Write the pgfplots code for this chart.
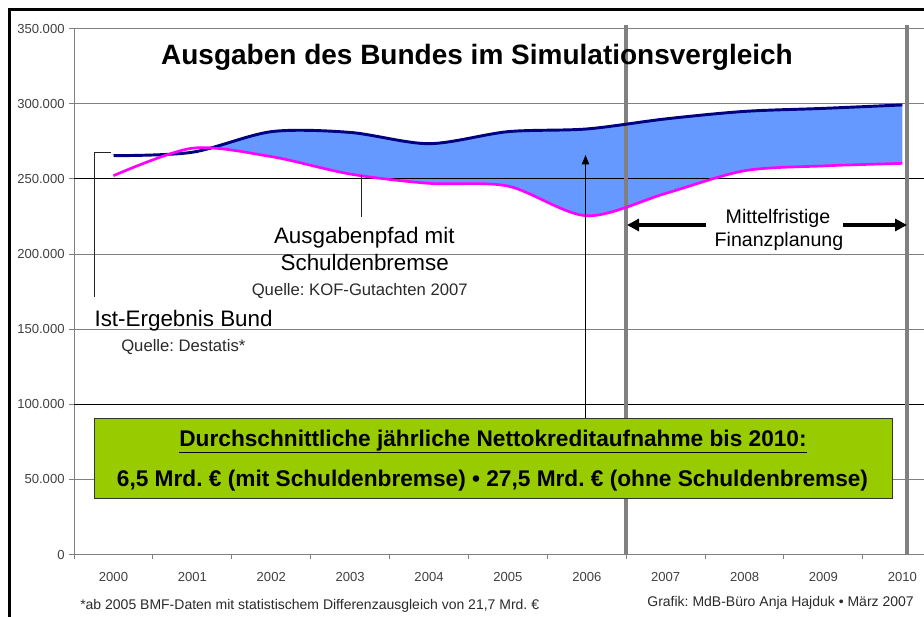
\documentclass[border=0pt]{standalone}
\usepackage{fontspec}
\setmainfont{Liberation Sans}
\usepackage{pgfplots}
\pgfplotsset{compat=1.18}
\usepgfplotslibrary{fillbetween}
\usetikzlibrary{arrows.meta}
\definecolor{navy}{HTML}{000080}
\definecolor{mag}{HTML}{FF00FF}
\definecolor{fillblue}{HTML}{6699FF}
\definecolor{boxgreen}{HTML}{99CC00}
\definecolor{gridgray}{HTML}{808080}
\definecolor{labgray}{HTML}{404040}
\definecolor{txtgray}{HTML}{2A2A2A}
\newcommand\fs[1]{\fontsize{#1}{#1}\selectfont}
\frenchspacing
\begin{document}
\begin{tikzpicture}
\begin{axis}[
  set layers,
  at={(55.545pt,-415.875pt)}, anchor=south west,
  scale only axis, width=637.45pt, height=394.3pt,
  xmin=-0.5, xmax=10.275, ymin=0, ymax=350000,
  scaled y ticks=false,
  clip=false,
  axis x line=bottom, axis y line=left,
  axis line style={-, gridgray, line width=0.75pt},
  tick align=outside,
  tick style={gridgray, line width=0.75pt},
  major tick length=3.6pt,
  xtick={-0.5,0.5,...,9.5}, xticklabels={},
  extra x ticks={0,1,2,3,4,5,6,7,8,9,10},
  extra x tick labels={2000,2001,2002,2003,2004,2005,2006,2007,2008,2009,2010},
  extra x tick style={major tick length=0pt, grid=none,
    xticklabel style={anchor=base, yshift=-19.9pt, inner sep=0pt}},
  ytick={0,50000,100000,150000,200000,250000,300000,350000},
  yticklabels={0,50.000,100.000,150.000,200.000,250.000,300.000,350.000},
  ymajorgrids, grid style={gridgray, line width=0.75pt},
  ticklabel style={font=\fs{9.8}, text=labgray},
]
\addplot[draw=none, name path=ist, smooth] coordinates {(0,265500) (1,267800) (2,281500) (3,281000) (4,273500) (5,281500) (6,283300) (7,290000) (8,295000) (9,297000) (10,299300)};
\addplot[draw=none, name path=kof, smooth] coordinates {(0,252200) (1,270500) (2,264900) (3,253300) (4,247100) (5,245300) (6,225500) (7,240400) (8,255500) (9,258700) (10,260400)};
\addplot[fillblue, draw=none] fill between[of=ist and kof, soft clip={domain=1.3:10}];
\draw[black, line width=0.75pt] (axis cs:-0.5,250000) -- (axis cs:10.275,250000);
\draw[black, line width=0.75pt] (axis cs:-0.5,100000) -- (axis cs:10.275,100000);
\draw[gridgray, line width=3pt] (axis cs:6.5,0) -- (axis cs:6.5,352200);
\draw[gridgray, line width=3pt] (axis cs:10.06,0) -- (axis cs:10.06,352200);
\addplot[navy, line width=2.2pt, smooth] coordinates {(0,265500) (1,267800) (2,281500) (3,281000) (4,273500) (5,281500) (6,283300) (7,290000) (8,295000) (9,297000) (10,299300)};
\addplot[mag, line width=2pt, smooth] coordinates {(0,252200) (1,270500) (2,264900) (3,253300) (4,247100) (5,245300) (6,225500) (7,240400) (8,255500) (9,258700) (10,260400)};
\end{axis}
\begin{scope}[x=0.75pt, y=-0.75pt]
  % frame
  \draw[black, line width=2.25pt] (8,9.5) -- (924,9.5);
  \draw[black, line width=2.25pt] (9.5,8) -- (9.5,617);
  % title
  \node[anchor=base, font=\bfseries\fs{21}, inner sep=0pt] at (477,64.3) {Ausgaben des Bundes im Simulationsvergleich};
  % Ist-Ergebnis
  \draw[black!85, line width=0.75pt] (110.7,152.7) -- (94.3,152.7) -- (94.3,296.7);
  \node[anchor=base west, font=\fs{16.8}, inner sep=0pt] at (94.3,326) {Ist-Ergebnis Bund};
  \node[anchor=base west, font=\fs{12.5}, text=txtgray, inner sep=0pt] at (121,351.7) {Quelle: Destatis*};
  % Ausgabenpfad
  \draw[black!85, line width=0.75pt] (361,175) -- (361,216.7);
  \node[anchor=base, font=\fs{16.8}, inner sep=0pt] at (364.3,243.3) {Ausgabenpfad mit};
  \node[anchor=base, font=\fs{16.8}, inner sep=0pt] at (364.7,270) {Schuldenbremse};
  \node[anchor=base, font=\fs{12.5}, text=txtgray, inner sep=0pt] at (359.7,295.7) {Quelle: KOF-Gutachten 2007};
  % arrow to gap
  \draw[black, line width=0.75pt, -{Triangle[length=7pt,width=5.5pt]}] (585.5,418) -- (585.5,155);
  % Mittelfristige Finanzplanung
  \node[anchor=base, font=\fs{14.7}, inner sep=0pt] at (778,223.5) {Mittelfristige};
  \node[anchor=base, font=\fs{14.7}, inner sep=0pt] at (779,246.5) {Finanzplanung};
  \draw[black, line width=2.6pt, -{Triangle[length=9pt,width=9pt]}] (706,225) -- (627,225);
  \draw[black, line width=2.6pt, -{Triangle[length=9pt,width=9pt]}] (843,225) -- (907,225);
  % green box
  \draw[black!80, fill=boxgreen, line width=0.9pt] (94.3,418.3) rectangle (892.3,498.3);
  \node[anchor=base, font=\bfseries\fs{17}, inner sep=0pt] at (493,446) {\underline{Durchschnittliche jährliche Nettokreditaufnahme bis 2010:}};
  \node[anchor=base, font=\bfseries\fs{17}, inner sep=0pt] at (492.5,486) {6,5 Mrd. € (mit Schuldenbremse) • 27,5 Mrd. € (ohne Schuldenbremse)};
  % footer
  \node[anchor=base west, font=\fs{10.5}, text=txtgray, inner sep=0pt] at (80,609) {*ab 2005 BMF-Daten mit statistischem Differenzausgleich von 21,7 Mrd. €};
  \node[anchor=base east, font=\fs{10.5}, text=txtgray, inner sep=0pt] at (914,606) {Grafik: MdB-Büro Anja Hajduk • März 2007};
\end{scope}
\pgfresetboundingbox
\path[use as bounding box] (0,0) rectangle (693pt,-462.75pt);
\end{tikzpicture}
\end{document}
